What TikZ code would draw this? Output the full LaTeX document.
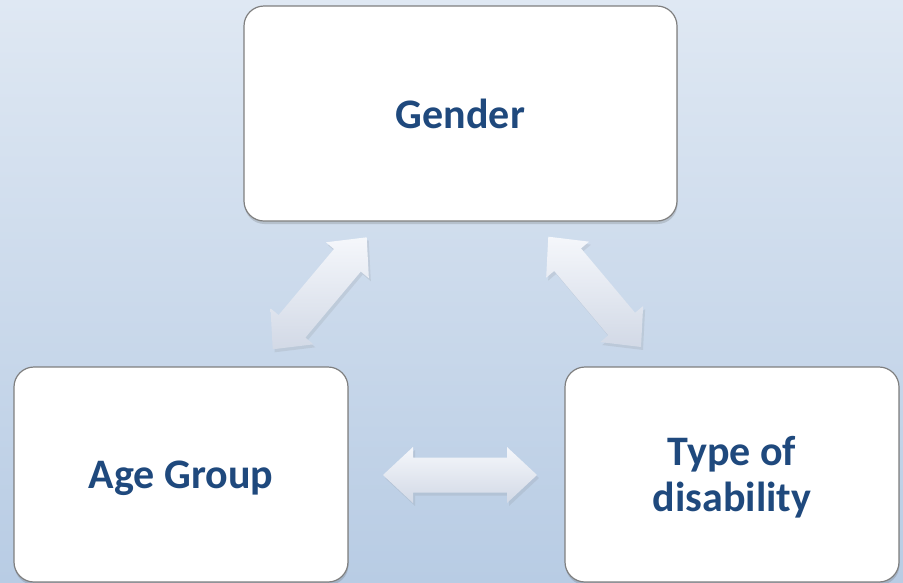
\documentclass[tikz,border=0pt]{standalone}
\usepackage{fontspec}
\setmainfont{Carlito}
\usetikzlibrary{calc,shadows}
\definecolor{bgtop}{HTML}{DFE8F3}
\definecolor{bgbot}{HTML}{B8CCE4}
\definecolor{txtblue}{HTML}{1F497D}
\definecolor{boxline}{HTML}{7F7F7F}
\definecolor{arrlight}{HTML}{F5F7FB}
\definecolor{arrdark}{HTML}{D2D9E6}
\def\arrHL{30pt}
\def\arrHW{28pt}
\def\arrSW{17.5pt}
\newcommand\dblarr[2]{%
  \path[arrowshape] (#1)
    -- ($(#1)!\arrHL!(#2)!\arrHW!90:(#2)$)
    -- ($(#1)!\arrHL!(#2)!\arrSW!90:(#2)$)
    -- ($(#2)!\arrHL!(#1)!\arrSW!-90:(#1)$)
    -- ($(#2)!\arrHL!(#1)!\arrHW!-90:(#1)$)
    -- (#2)
    -- ($(#2)!\arrHL!(#1)!\arrHW!90:(#1)$)
    -- ($(#2)!\arrHL!(#1)!\arrSW!90:(#1)$)
    -- ($(#1)!\arrHL!(#2)!\arrSW!-90:(#2)$)
    -- ($(#1)!\arrHL!(#2)!\arrHW!-90:(#2)$)
    -- cycle;}
\begin{document}
\begin{tikzpicture}[x=1pt,y=-1pt,
  box/.style={draw=boxline, line width=1.2pt, fill=white, rounded corners=20pt,
    inner sep=0pt, text=txtblue, align=center,
    font=\bfseries\fontsize{42}{46}\selectfont,
    drop shadow={shadow xshift=0.5pt, shadow yshift=-3pt, opacity=0.2, fill=black!70}},
  arrowshape/.style={top color=arrlight, bottom color=arrdark, draw=none,
    drop shadow={shadow xshift=2pt, shadow yshift=-3pt, opacity=0.12, fill=black!60}}]
  \useasboundingbox (0,0) rectangle (903,582);
  \fill[top color=bgtop, bottom color=bgbot] (0,0) rectangle (903,582);
  \clip (0,0) rectangle (903,582);
  \node[box, minimum width=433pt, minimum height=215pt, text height=29pt, text depth=0pt] (gender) at (460.5,113.5) {Gender};
  \node[box, minimum width=334pt, minimum height=215pt, text height=27pt, text depth=0pt] (age) at (181,474.5) {Age Group};
  \node[box, minimum width=334pt, minimum height=215pt, text height=73pt, text depth=0pt] (type) at (732,474.5) {Type of\\disability};
  \coordinate (la1) at (272.7,349.3);
  \coordinate (la2) at (366.7,237.3);
  \coordinate (ra1) at (548.3,236.7);
  \coordinate (ra2) at (641,347);
  \coordinate (ha1) at (383,475);
  \coordinate (ha2) at (537,475);
  \dblarr{la1}{la2}
  \dblarr{ra1}{ra2}
  \dblarr{ha1}{ha2}
\end{tikzpicture}
\end{document}
